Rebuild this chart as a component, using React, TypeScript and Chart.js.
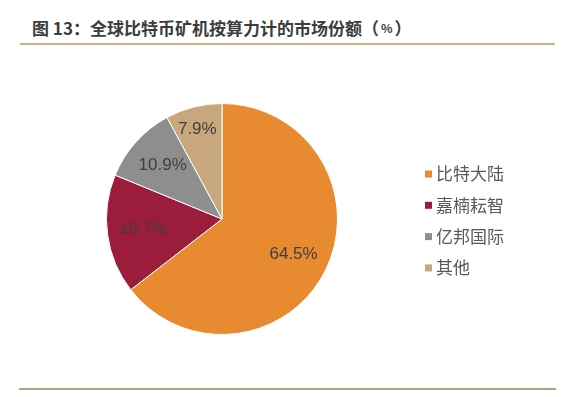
import React, { useEffect, useRef } from "react";
import { Chart, registerables } from "chart.js";

Chart.register(...registerables);

const TITLE_MAIN = "图 13：全球比特币矿机按算力计的市场份额（";
const TITLE_UNIT = "%";
const TITLE_END = "）";
const categories = ["比特大陆", "嘉楠耘智", "亿邦国际", "其他"];
const shares = [64.5, 16.7, 10.9, 7.9];
const colors = ["#E88A30", "#9C1C3B", "#8E8E8E", "#C8A77C"];

const labelsPlugin = {
  id: "sliceLabels",
  afterDatasetsDraw(chart: any) {
    const ctx = chart.ctx;
    const meta = chart.getDatasetMeta(0);
    ctx.save();
    ctx.font = "17px 'Liberation Sans', Arial, sans-serif";
    ctx.fillStyle = "#3f3f3f";
    ctx.textAlign = "center";
    ctx.textBaseline = "middle";
    meta.data.forEach((arc: any, i: number) => {
      const { x, y, startAngle, endAngle, outerRadius } = arc.getProps(
        ["x", "y", "startAngle", "endAngle", "outerRadius"],
        true
      );
      const mid = (startAngle + endAngle) / 2;
      const r = outerRadius * (i === 3 ? 0.8 : 0.69);
      ctx.fillText(shares[i].toFixed(1) + "%", x + Math.cos(mid) * r - (i === 3 ? 2 : 0), y + Math.sin(mid) * r);
    });
    ctx.restore();
  },
};

const legendPlugin = {
  id: "customLegend",
  afterDraw(chart: any) {
    const ctx = chart.ctx;
    ctx.save();
    ctx.font = "17px 'Noto Sans CJK SC', sans-serif";
    ctx.textBaseline = "middle";
    const x0 = 425;
    const y0 = 174;
    const step = 31.3;
    categories.forEach((c, i) => {
      const y = y0 + i * step;
      ctx.fillStyle = colors[i];
      ctx.fillRect(x0, y - 3.5, 7, 7);
      ctx.fillStyle = "#595959";
      ctx.fillText(c, x0 + 11, y);
    });
    ctx.restore();
  },
};

export default function App() {
  const ref = useRef<HTMLCanvasElement>(null);
  useEffect(() => {
    document.body.style.margin = "0";
    const chart = new Chart(ref.current!, {
      type: "pie",
      data: {
        labels: categories,
        datasets: [
          {
            data: shares,
            backgroundColor: colors,
            borderColor: "#ffffff",
            borderWidth: 1,
          },
        ],
      },
      options: {
        animation: false,
        responsive: false,
        layout: { padding: { left: 106, right: 248, top: 103, bottom: 62 } },
        plugins: { legend: { display: false }, tooltip: { enabled: false } },
      },
      plugins: [labelsPlugin, legendPlugin],
    });
    return () => chart.destroy();
  }, []);
  return (
    <div style={{ position: "relative", width: 586, height: 397, background: "#fff", overflow: "hidden" }}>
      <div
        style={{
          position: "absolute",
          left: 32,
          top: 16,
          fontFamily: "'Noto Sans CJK SC', sans-serif",
          fontWeight: 700,
          fontSize: 17,
          lineHeight: "24px",
          color: "#3c3c3c",
          whiteSpace: "nowrap",
        }}
      >
        {TITLE_MAIN}
        <span style={{ fontSize: 12, padding: "0 2px", position: "relative", top: -2 }}>{TITLE_UNIT}</span>
        {TITLE_END}
      </div>
      <div style={{ position: "absolute", left: 20, top: 43, width: 535, height: 2, background: "#CDAE7E" }} />
      <canvas ref={ref} width={586} height={397} style={{ position: "absolute", left: 0, top: 0 }} />
      <div style={{ position: "absolute", left: 19, top: 388, width: 537, height: 2, background: "#B3A27F" }} />
    </div>
  );
}
